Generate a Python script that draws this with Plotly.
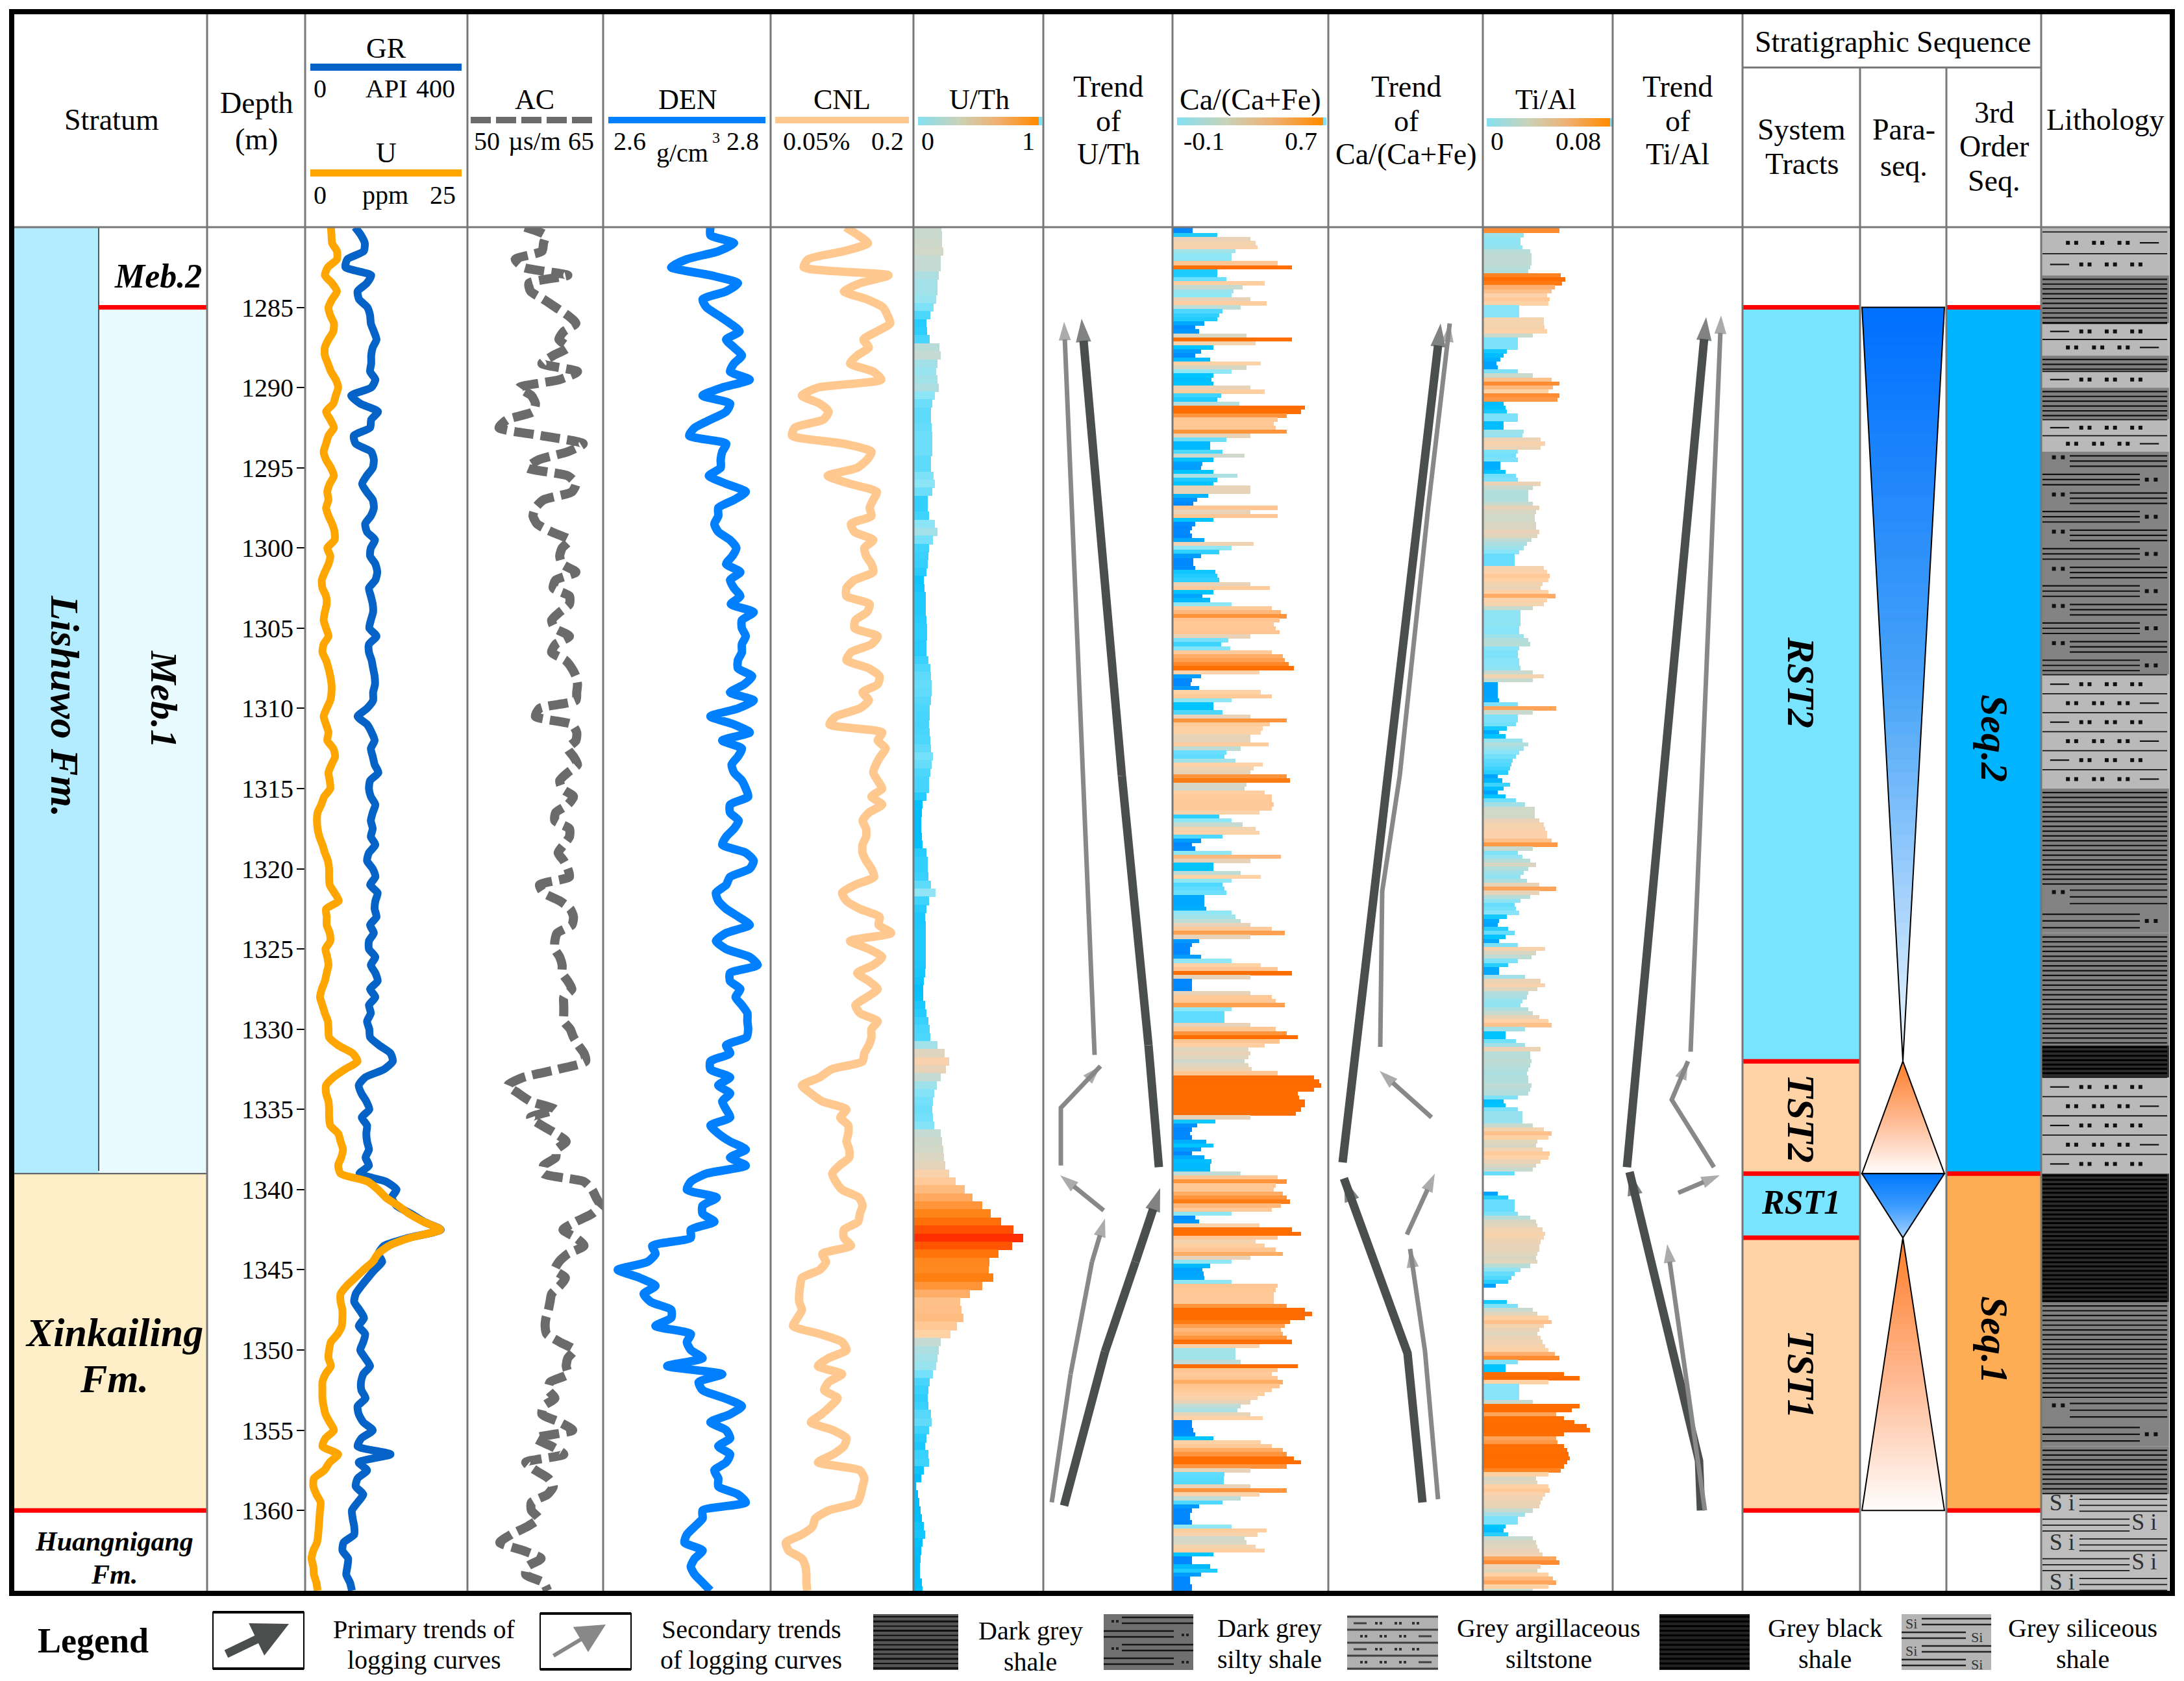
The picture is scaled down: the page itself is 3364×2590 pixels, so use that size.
import plotly.graph_objects as go

W, H = 3364, 2590
TOP_D, BOT_D = 1280.0, 1365.17
FONT = "Liberation Serif"

TICKS = [1285, 1290, 1295, 1300, 1305, 1310, 1315, 1320, 1325, 1330, 1335, 1340, 1345, 1350, 1355, 1360]

GR = [118,134,144,141,98,93,161,149,125,129,151,158,160,168,175,165,161,161,158,172,161,108,132,179,161,158,115,120,161,168,165,149,137,149,165,168,
160,145,150,171,160,158,172,177,172,155,160,165,166,160,156,175,155,155,162,166,170,171,166,166,150,125,150,162,170,160,165,170,180,158,155,160,172,165,160,165,160,172,155,150,165,172,158,178,172,170,175,158,168,155,155,172,160,172,178,158,172,155,160,150,156,158,
182,212,218,195,145,128,135,148,156,136,150,148,150,155,146,155,130,200,228,215,228,266,300,345,260,195,180,190,170,152,135,120,116,130,142,128,145,140,132,145,158,140,134,135,146,125,128,140,165,135,125,212,128,150,125,120,140,125,110,112,116,116,88,85,100,98,95,105,110]

U = [3.4,3.5,3.6,4.4,4.4,2.9,2.4,3.6,4.4,3.6,3.0,3.3,3.9,3.8,3.0,2.4,2.4,2.9,3.4,4.2,4.6,4.2,3.8,2.6,3.3,3.9,3.0,2.6,2.2,2.6,3.4,3.9,3.2,2.8,3.0,2.6,
3,3.6,4,4,2.8,3.3,3,2.4,1.9,2,2.6,2.7,2.4,2.2,2.6,3,2.2,2,2.6,3,3.3,3.5,3.5,3.3,2.7,2.2,2.6,3,2.8,3.8,4.1,3.5,3,3.2,3.3,2.3,1.8,1.2,1.1,1.2,1.5,2,2.4,2.9,3.1,3.1,3.2,4,4.7,2.6,2.7,2.7,3.2,3.3,2.5,2.8,3,2.7,2.4,1.9,1.6,2,2.4,2.9,3,3.1,
4.6,7,7.8,5.7,3.8,2.6,2.6,3,3.1,3.1,3.3,4.6,5,5.4,5.1,4.6,5,9.5,11.2,12.5,14.5,16.3,18.7,21.5,16.5,13,11.2,10.3,8.8,7.4,6,5,5,5.3,5.3,5.2,4.5,3.4,3.1,3,3.4,2.5,2,2,2,2.2,2.5,3.2,3.9,2.5,2,4.6,3.2,2.3,0.6,0.5,1,1.7,1.6,1.5,1.4,1.3,1.1,0.5,0.2,0.5,0.6,1,1.2]

AC = [56.7,59.2,59,58.8,55.5,56.5,62,57.2,57.4,59,60.5,62,63,61.5,60.9,62,60.2,58.8,63.2,61,56,57.5,58,57.7,54.5,53.5,58.8,63.9,62,58.4,57,62,63,62.5,59,58,
57.7,58.2,60,62.2,61.3,61,61.3,63,60.5,60.2,62.2,62.2,61,60,60.4,62.2,60.5,60,61.7,62.5,63,63.2,63.1,63,58.5,58,62.5,63.1,63,62,62.7,63.2,62,61,61.3,62.7,62,60.5,60.4,62.2,62.2,61.5,60.8,61.5,62,62.2,58.5,59,61,62.3,62.7,62.5,60.7,60.4,60.4,61,61.3,61.3,62,62.5,61.5,61.5,61.5,61.5,62.3,62.7,
63.3,64,64.2,60.8,56.5,54.6,55.9,57.4,60.4,57.4,58.8,60.5,61.8,60.6,60.5,59,59,64,65,65.5,66,65,63,61.4,63,64,62,60.9,60.4,61.7,61,60,59.8,59.6,59.3,59.2,59.4,61,62.8,62,61.8,62,59.8,59.6,60.4,59,58.8,61,62.6,58,60,61.5,56.8,58,59.6,60.2,59.5,57.5,57.5,58.4,57,55,53.6,56.5,58.7,57,56.8,59,59.5]

DEN = [2.73,2.73,2.76,2.74,2.70,2.68,2.73,2.765,2.75,2.72,2.725,2.74,2.755,2.767,2.75,2.76,2.77,2.76,2.755,2.78,2.745,2.72,2.755,2.75,2.73,2.71,2.703,2.75,2.745,2.743,2.743,2.728,2.75,2.775,2.76,2.74,
2.74,2.735,2.74,2.755,2.763,2.758,2.75,2.768,2.755,2.76,2.768,2.756,2.785,2.77,2.77,2.775,2.77,2.77,2.765,2.765,2.783,2.773,2.755,2.785,2.765,2.73,2.76,2.78,2.745,2.77,2.765,2.757,2.76,2.77,2.775,2.778,2.755,2.755,2.766,2.76,2.75,2.745,2.775,2.785,2.78,2.755,2.75,2.737,2.74,2.75,2.766,2.78,2.75,2.737,2.75,2.78,2.79,2.755,2.755,2.768,2.762,2.77,2.777,2.777,2.778,2.776,
2.75,2.755,2.73,2.73,2.755,2.74,2.755,2.745,2.75,2.755,2.73,2.74,2.755,2.775,2.755,2.775,2.725,2.705,2.70,2.738,2.72,2.72,2.735,2.705,2.705,2.656,2.66,2.65,2.612,2.64,2.66,2.645,2.654,2.68,2.68,2.66,2.705,2.70,2.705,2.72,2.675,2.745,2.715,2.72,2.748,2.77,2.755,2.73,2.75,2.755,2.74,2.755,2.75,2.735,2.74,2.74,2.765,2.775,2.72,2.72,2.71,2.70,2.697,2.72,2.71,2.705,2.71,2.72,2.73]

CNL = [0.129,0.143,0.154,0.127,0.087,0.082,0.177,0.145,0.127,0.153,0.171,0.176,0.179,0.164,0.149,0.155,0.142,0.134,0.16,0.169,0.098,0.08,0.1,0.11,0.104,0.072,0.069,0.127,0.158,0.153,0.142,0.109,0.134,0.164,0.16,0.156,
.158,.135,.139,.16,.15,.152,.158,.16,.139,.13,.13,.156,.153,.14,.139,.165,.158,.135,.13,.155,.167,.165,.148,.155,.145,.118,.111,.17,.165,.174,.168,.163,.16,.165,.17,.158,.17,.155,.148,.152,.152,.148,.148,.152,.158,.161,.14,.125,.13,.145,.167,.166,.18,.134,.155,.17,.16,.142,.155,.165,.153,.14,.145,.165,.158,.158,
.155,.15,.148,.113,.10,.08,.09,.103,.13,.123,.132,.132,.13,.133,.133,.122,.114,.118,.125,.144,.148,.145,.143,.127,.127,.135,.103,.107,.1,.08,.078,.077,.077,.08,.075,.07,.1,.125,.13,.11,.098,.125,.11,.105,.12,.112,.102,.09,.115,.13,.127,.115,.098,.145,.15,.148,.146,.142,.11,.095,.092,.08,.062,.065,.08,.084,.085,.085,.086]

UTH = [.196,.197,.2,.207,.19,.19,.17,.16,.16,.15,.13,.1,.07,.075,.095,.18,.19,.16,.15,.16,.17,.14,.12,.11,.11,.115,.12,.12,.12,.11,.11,.13,.14,.12,.08,.08,
.09,.14,.16,.125,.09,.086,.082,.07,.05,.055,.063,.065,.065,.07,.075,.075,.07,.07,.085,.1,.11,.115,.112,.105,.098,.095,.093,.096,.1,.11,.125,.115,.1,.093,.093,.07,.04,.03,.025,.027,.03,.04,.07,.08,.08,.085,.11,.144,.09,.07,.06,.062,.065,.065,.065,.065,.062,.058,.05,.042,.045,.06,.07,.085,.095,.1,
.16,.22,.256,.23,.19,.155,.135,.125,.12,.125,.135,.19,.2,.207,.215,.226,.26,.31,.385,.45,.53,.603,.69,.79,.87,.78,.665,.59,.584,.622,.53,.43,.35,.36,.377,.32,.27,.19,.17,.16,.15,.125,.095,.085,.078,.085,.105,.113,.09,.07,.06,.085,.09,.05,.025,-.015,.0,.012,.02,.03,.05,.057,.038,.028,.02,.015,.018,.03,.038]

CA = [-.016,-.016,.12,.3,.33,.34,.22,.2,.2,.45,.53,.12,.12,.17,.38,.26,.21,.2,.3,.39,.25,.15,.13,.12,.05,.0,.02,.28,.53,.33,.1,.03,.0,.08,.36,.28,.2,.1,.09,.1,.3,.38,.14,.12,.24,.6,.58,.5,.45,.43,.44,.5,.3,.17,.08,.08,.15,.27,.1,.04,.03,.1,.23,.12,.1,.3,.3,.07,.01,-.01,.45,
.3,.45,.1,.0,-.02,-.03,-.02,.05,.32,.2,.13,.03,-.01,-.01,.0,.11,.12,.13,.3,.41,.1,.04,.08,.2,.42,.47,.5,.46,.43,.44,.46,.3,.18,.14,.19,.42,.48,.49,.51,.54,.35,.03,-.02,-.025,.02,.36,.42,.2,.1,.1,.15,.3,.5,.41,.37,.36,.3,.3,.4,.25,.17,.16,.22,.37,.32,.3,.5,.52,.28,.27,.38,.42,.42,.43,.42,.35,.13,.2,.26,.33,.35,.15,.03,-.02,.0,.2,.47,.3,.1,.1,.25,.36,.2,.15,.16,.17,.05,.05,.05,.06,.2,.22,.25,.3,.42,.49,.3,.02,-.02,-.03,-.03,.03,.2,.36,.45,.53,.3,-.02,-.02,-.02,.3,.42,.44,.49,.2,.16,.16,.16,.3,.44,.5,.56,.46,.38,
.29,.3,.29,.27,.29,.31,.45,.65,.68,.69,.65,.56,.57,.6,.6,.58,.55,.3,.11,.01,-.02,-.03,-.02,.06,.1,.03,-.02,.05,.09,.08,.08,.25,.45,.5,.44,.43,.48,.5,.52,.47,.42,.2,0,.02,.35,.53,.58,.45,.33,.38,.44,.48,.3,.2,.08,.04,.045,.05,.2,.45,.44,.43,.43,.43,.5,.6,.64,.6,.52,.49,.47,.48,.5,.53,.35,.22,.22,.22,.25,.56,.45,.42,.45,.48,.46,.42,.38,.34,.3,.25,.23,.3,.37,-.02,-.02,-.01,0,.1,.36,.42,.48,.5,.54,.58,.5,.3,.16,.155,.155,.3,.5,.35,.25,.15,.02,-.02,-.03,-.03,-.02,.2,.39,.34,.27,.28,.33,.38,.1,-.02,-.02,.08,.12,.03,-.03,-.03,-.02,-.02]

TI = [.047,.047,.024,.022,.022,.023,.028,.029,.029,.029,.028,.027,.048,.051,.049,.044,.042,.039,.041,.04,.021,.021,.021,.037,.037,.0374,.039,.03,.02,.02,.02,.013,.011,.009,.0065,.007,.02,.03,.042,.047,.043,.04,.047,.046,.011,.012,.013,.02,.02,.011,.011,.024,.023,.035,.038,.035,.02,.019,.02,.009,.009,.012,.019,.02,.035,.03,.027,.027,.027,.03,.034,
.032,.031,.031,.032,.032,.034,.033,.029,.026,.024,.021,.018,.018,.018,.037,.039,.041,.04,.036,.035,.04,.0445,.039,.037,.03,.022,.022,.022,.022,.021,.021,.024,.027,.028,.021,.02,.02,.021,.021,.022,.03,.037,.03,.007,.007,.007,.007,.008,.02,.045,.03,.02,.02,.019,.013,.008,.012,.023,.027,.024,.021,.019,.017,.016,.015,.014,.007,.01,.015,.011,.007,.012,.019,.025,.031,.031,.031,.034,.037,.038,.039,.039,.042,.046,.03,.02,.023,.028,.032,.027,.024,.022,.026,.034,.045,.034,.028,.022,.018,.019,.021,.013,.008,.007,.014,.018,.012,.008,.02,.038,.032,.029,.02,.014,.008,.008,.025,.035,.038,.033,.027,.026,.023,.022,.027,.03,.034,.04,.042,.025,.012,.012,.019,.025,
.035,.028,.028,.029,.028,.027,.026,.027,.027,.029,.028,.027,.02,.011,.012,.02,.023,.023,.023,.03,.037,.042,.04,.033,.032,.036,.041,.04,.035,.032,.03,.018,-.0025,-.0025,-.0025,-.0025,.007,.014,.018,.018,.018,.02,.028,.032,.033,.036,.038,.037,.035,.034,.034,.033,.032,.033,.028,.022,.018,.016,.014,.006,-.0025,-.0025,-.0025,.013,.02,.03,.033,.04,.042,.037,.034,.033,.035,.036,.038,.04,.044,.047,.02,.012,.012,.05,.06,.04,.021,.021,.021,.021,.03,.06,.055,.045,.05,.057,.065,.067,.05,.045,.046,.05,.052,.053,.054,.052,.05,.048,.04,.032,.033,.04,.041,.038,.036,.035,.034,.03,.025,.02,.02,.012,.011,.014,.03,.032,.033,.034,.036,.045,.047,.035,.033,.04,.043,.045,.04,.03]

SCALE_UTH = [(-.04,"#00B4FF"),(.04,"#00C0FF"),(.09,"#3FD3FF"),(.14,"#8CE5F6"),(.19,"#C4DAD2"),(.23,"#E8D3B8"),(.27,"#FFD2A6"),(.38,"#FFBB80"),(.5,"#FF9A45"),(.62,"#FF8010"),(.75,"#FF6000"),(.88,"#FF2A00")]
SCALE_CA = [(-.12,"#0080FF"),(-.01,"#0088FF"),(.05,"#00A8FF"),(.1,"#00C4FF"),(.16,"#5FDCFF"),(.2,"#8FE6F5"),(.25,"#BFDCD6"),(.3,"#E8D3B8"),(.36,"#FFD2A6"),(.46,"#FFC490"),(.49,"#FFA050"),(.53,"#FF6E00"),(.7,"#FF6A00")]
SCALE_TI = [(-.0025,"#0080FF"),(.008,"#00A8FF"),(.012,"#00C4FF"),(.016,"#50D8FF"),(.021,"#88E4F8"),(.028,"#B8DCD8"),(.034,"#E8D3B8"),(.04,"#FFD2A6"),(.044,"#FFB070"),(.047,"#FF8C30"),(.05,"#FF6E00"),(.07,"#FF6A00")]

TREND_MAIN_COLOR, TREND_SEC_COLOR = "#4A4E4C", "#888888"
# each trend: depth and horizontal position (screen column, px) of the vertices, head last
UTH_TRENDS = [
 (1,[1785,1769,1728,1690,1666],[1338.6,1331,1314.2,1297.4,1285.7]),
 (0,[1686,1651,1639],[1331.6,1297.4,1285.9]),
 (0,[1634,1634,1695],[1338.5,1334.9,1332.3]),
 (0,[1700,1633],[1341.3,1339.1]),
 (1,[1639,1677,1702,1749,1787],[1359.7,1353.8,1350.1,1344.5,1339.9]),
 (0,[1620,1649,1682,1702],[1359.5,1351.5,1344.5,1341.8]),
]
CA_TRENDS = [
 (1,[2068,2089,2137,2188,2219],[1338.3,1331,1314,1297.4,1286]),
 (0,[2126,2129,2156,2200,2233],[1331.1,1321.4,1314.2,1297.4,1286]),
 (0,[2205,2125],[1335.5,1332.6]),
 (0,[2167,2210],[1342.8,1339]),
 (1,[2191,2168,2070],[1359.5,1350.2,1339.3]),
 (0,[2215,2195,2172],[1359.3,1350.1,1343.7]),
]
TI_TRENDS = [
 (1,[2506,2628],[1338.6,1285.6]),
 (0,[2604,2651],[1331.4,1285.5]),
 (0,[2640,2575,2600],[1338.6,1334.4,1332]),
 (0,[2585,2649],[1340.2,1339.1]),
 (1,[2620,2617,2510],[1360,1356.9,1338.9]),
 (0,[2626,2568],[1360,1343.4]),
]

LITH = [  # top, base, type, rows, first pattern
 (1280.3,1283,"silt",2,"A"),(1283,1286,"shale",0,""),(1286,1288,"silt",2,"B"),(1288,1289,"shale",0,""),(1289,1290,"silt",1,"B"),
 (1290,1292,"shale",0,""),(1292,1294,"silt",2,"B"),(1294,1307.9,"silty",12,"A"),(1307.9,1315,"silt",6,"B"),(1315,1321,"shale",0,""),
 (1321,1324,"silty",2,"A"),(1324,1331,"shale",0,""),(1331,1333,"black",0,""),(1333,1339,"silt",5,"B"),(1339,1347,"black",0,""),
 (1347,1353,"shale",0,""),(1353,1356,"silty",2,"A"),(1356,1359,"shale",0,""),(1359,1365.17,"si",5,"A")]
LITH_BG = {"silt":"#B9B9B9","shale":"#808080","silty":"#838383","black":"#2C2C2C","si":"#BDBDBD"}

# ------------------------------------------------------------------ helpers
def px(x): return x/W
def py(y): return 1-y/H
def depth_grid(n, start=1280.0, step=0.5): return [start+i*step for i in range(n)]
def rgb(h): return tuple(int(h[i:i+2],16) for i in (1,3,5))
def mix(a,b,t):
    a,b=rgb(a),rgb(b)
    return "rgb(%d,%d,%d)"%tuple(a[i]+(b[i]-a[i])*t for i in range(3))
def norm(scale):
    lo,hi=scale[0][0],scale[-1][0]
    return [[(v-lo)/(hi-lo),c] for v,c in scale]

shapes,annots,traces=[],[],[]
def txt(x,y,s,size=46,bold=False,italic=False,angle=0,color="black"):
    if italic: s="<i>%s</i>"%s
    if bold: s="<b>%s</b>"%s
    annots.append(dict(x=px(x),y=py(y),xref="paper",yref="paper",text=s,showarrow=False,xanchor="center",yanchor="middle",
                       textangle=angle,font=dict(family=FONT,size=size,color=color)))
def rect(x0,x1,y0,y1,fill,line=None,lw=0,layer="below"):
    shapes.append(dict(type="rect",xref="paper",yref="paper",x0=px(x0),x1=px(x1),y0=py(y0),y1=py(y1),fillcolor=fill,
                       line=dict(width=lw,color=line or fill),layer=layer))
def block(x0,x1,d0,d1,fill):
    shapes.append(dict(type="rect",xref="paper",yref="y",x0=px(x0),x1=px(x1),y0=d0,y1=d1,fillcolor=fill,line=dict(width=0),layer="below"))
def hline(x0,x1,d,color="#FF0000",w=7):
    shapes.append(dict(type="line",xref="paper",yref="y",x0=px(x0),x1=px(x1),y0=d,y1=d,line=dict(color=color,width=w),layer="above"))
def seg(x0,y0,x1,y1,color="#777777",w=3):
    shapes.append(dict(type="line",xref="paper",yref="paper",x0=px(x0),x1=px(x1),y0=py(y0),y1=py(y1),line=dict(color=color,width=w),layer="above"))

# ------------------------------------------------------------------ axes
axes={}
def add_axis(name,tl,tr,rng=None,overlay=None):
    a=dict(domain=[px(tl),px(tr)],anchor="y",visible=False,range=rng or [tl,tr],showgrid=False,zeroline=False)
    if overlay:
        a["overlaying"]=overlay
    axes[name]=a
def scale_range(tl,tr,p0,p1,v0,v1):
    k=(p1-p0)/(v1-v0)
    return [v0-(p0-tl)/k, v1+(tr-p1)/k]

add_axis("xaxis",319,470,[0,1])
add_axis("xaxis2",470,720,scale_range(470,720,478,711,0,400))
add_axis("xaxis3",470,720,scale_range(470,720,478,711,0,25),overlay="x2")
add_axis("xaxis4",720,929,scale_range(720,929,725,912,50,65))
add_axis("xaxis5",929,1187,scale_range(929,1187,937,1179,2.6,2.8))
add_axis("xaxis6",1187,1407,scale_range(1187,1407,1194,1400,.05,.2))
r_uth=scale_range(1407,1607,1414,1600,0,1); add_axis("xaxis7",1407,1607,r_uth)
add_axis("xaxis8",1607,1806)
r_ca=scale_range(1806,2046,1813,2038,-.1,.7); add_axis("xaxis9",1806,2046,r_ca)
add_axis("xaxis10",2046,2284)
r_ti=scale_range(2284,2484,2290,2480,0,.08); add_axis("xaxis11",2284,2484,r_ti)
add_axis("xaxis12",2484,2684)
add_axis("xaxis13",3145,3341,[0,100])

def curve(xa,vals,color,w,dash=None):
    traces.append(go.Scatter(x=vals,y=depth_grid(len(vals)),xaxis=xa,yaxis="y",mode="lines",
        line=dict(color=color,width=w,dash=dash,shape="spline",smoothing=0.6),hoverinfo="skip"))
traces.append(go.Scatter(x=[0,1],y=[1280,1365],xaxis="x",yaxis="y",mode="markers",marker=dict(opacity=0,size=1),hoverinfo="skip"))
curve("x3",U,"#FFA500",12)
curve("x2",GR,"#0563C8",12)
curve("x4",AC,"#6B6B6B",14,"30px,11px")
curve("x5",DEN,"#0080FF",13)
curve("x6",CNL,"#FFC88F",13)

def bars(xa,vals,step,rng,scale):
    base=rng[0]
    traces.append(go.Bar(x=[v-base for v in vals],y=depth_grid(len(vals),step=step),base=base,xaxis=xa,yaxis="y",orientation="h",
        width=step*1.06,marker=dict(color=vals,colorscale=norm(scale),cmin=scale[0][0],cmax=scale[-1][0],line=dict(width=0),showscale=False),hoverinfo="skip"))
bars("x7",UTH,0.5,r_uth,SCALE_UTH)
bars("x9",CA,0.25,r_ca,SCALE_CA)
bars("x11",TI,0.25,r_ti,SCALE_TI)

def arrows(xa,items):
    for main,xs,ds in items:
        c=TREND_MAIN_COLOR if main else TREND_SEC_COLOR
        w=13 if main else 7
        traces.append(go.Scatter(x=xs,y=ds,xaxis=xa,yaxis="y",mode="lines+markers",line=dict(color=c,width=w),
            marker=dict(symbol="arrow",angleref="previous",size=[0]*(len(xs)-1)+[38 if main else 30],color=c,line=dict(width=0)),hoverinfo="skip"))
arrows("x8",UTH_TRENDS); arrows("x10",CA_TRENDS); arrows("x12",TI_TRENDS)

# ------------------------------------------------------------------ stratum / sequence blocks
block(18,152,1280,1339,"#B3ECFF")
block(152,319,1285,1339,"#E9FAFF")
block(18,319,1339,1360,"#FFEFC9")
block(2684,2865,1285,1332,"#78E4FF"); block(2684,2865,1332,1339,"#FFD3A5")
block(2684,2865,1339,1343,"#78E4FF"); block(2684,2865,1343,1360,"#FFD3A5")
block(2998,3144,1285,1339,"#00B4FF"); block(2998,3144,1339,1360,"#FFAD55")
shapes.append(dict(type="line",xref="paper",yref="paper",x0=px(152),x1=px(152),y0=py(350),y1=py(1804),line=dict(color="#555555",width=2)))
hline(18,319,1339,"#555555",2)
for x0,x1,d in [(152,319,1285),(18,319,1360),(2684,2865,1285),(2684,2865,1332),(2684,2865,1339),(2684,2865,1343),(2684,2865,1360),
                (2998,3144,1285),(2998,3144,1339),(2998,3144,1360)]:
    hline(x0,x1,d)

def tri(d0,d1,wide_top,c0,c1,c2):
    n=60; L,R,C=2868,2995,2931
    for i in range(n):
        a,b=i/n,(i+1)/n
        ta,tb=(1-a,1-b) if wide_top else (a,b)
        y0=d0+(d1-d0)*a; y1=d0+(d1-d0)*b+0.03
        col=mix(c0,c1,a*2) if a<.5 else mix(c1,c2,(a-.5)*2)
        path="M %f,%f L %f,%f L %f,%f L %f,%f Z"%(px(C-(C-L)*ta),y0,px(C+(R-C)*ta),y0,px(C+(R-C)*tb),y1,px(C-(C-L)*tb),y1)
        shapes.append(dict(type="path",xref="paper",yref="y",path=path,fillcolor=col,line=dict(width=0),layer="below"))
    if wide_top:
        o="M %f,%f L %f,%f L %f,%f Z"%(px(L),d0,px(R),d0,px(C),d1)
    else:
        o="M %f,%f L %f,%f L %f,%f Z"%(px(C),d0,px(R),d1,px(L),d1)
    shapes.append(dict(type="path",xref="paper",yref="y",path=o,line=dict(color="black",width=2),layer="below"))
tri(1285,1332,True,"#0070FF","#4AA5F8","#F0F8FF")
tri(1332,1339,False,"#FF7F2A","#FFB890","#FFFFFF")
tri(1339,1343,True,"#0078FF","#3C9CFF","#A8D4FF")
tri(1343,1360,False,"#FF7F2A","#FFB890","#FFFFFF")

# ------------------------------------------------------------------ lithology
lx,ly,thin_x,thin_y,dx,dy,sx,sy,blk_x,blk_y=[],[],[],[],[],[],[],[],[],[]
def L(xs,ys,x0,x1,d):
    xs.extend([x0,x1,None]); ys.extend([d,d,None])
for top,base,kind,rows,first in LITH:
    block(3145,3341,top if top!=1280.3 else 1280,base,LITH_BG[kind])
    if kind=="shale":
        d=top+0.25
        while d<base-0.05:
            L(lx,ly,0.5,98.5,d); d+=0.3
    elif kind=="black":
        d=top+0.12
        while d<base-0.03:
            L(blk_x,blk_y,0.5,98.5,d); d+=0.27
    else:
        h=(base-top)/rows
        for r in range(rows):
            pat=(r%2==0) if first=="A" else (r%2==1)
            t=top+r*h; mid=t+h/2
            if kind=="silt":
                L(thin_x,thin_y,0.5,98.5,t)
                if pat:
                    L(lx,ly,77,92,mid); pts=[20.5,27,41,47.5,61,67.5]
                else:
                    L(lx,ly,6.5,21.5,mid); pts=[31,37.5,51,57.5,71,77.5]
                dx.extend(pts); dy.extend([mid]*6)
            elif kind=="silty":
                for f in (.22,.5,.78):
                    if pat: L(lx,ly,22,98.5,t+h*f)
                    else: L(lx,ly,0.5,77,t+h*f)
                if pat: dx.extend([9.5,16.5]); dy.extend([t+h*.3]*2)
                else: dx.extend([82.5,89.5]); dy.extend([t+h*.5]*2)
            else:
                for f in (.25,.55,.85):
                    if pat: L(thin_x,thin_y,29.5,98.5,t+h*f)
                    else: L(thin_x,thin_y,0.5,69,t+h*f)
                sx.append(16 if pat else 80.5); sy.append(mid)
traces.append(go.Scatter(x=blk_x,y=blk_y,xaxis="x13",yaxis="y",mode="lines",line=dict(color="#000000",width=3),hoverinfo="skip"))
traces.append(go.Scatter(x=lx,y=ly,xaxis="x13",yaxis="y",mode="lines",line=dict(color="#101010",width=2.2),hoverinfo="skip"))
traces.append(go.Scatter(x=thin_x,y=thin_y,xaxis="x13",yaxis="y",mode="lines",line=dict(color="#151515",width=1.8),hoverinfo="skip"))
traces.append(go.Scatter(x=dx,y=dy,xaxis="x13",yaxis="y",mode="markers",marker=dict(symbol="square",size=6,color="#101010",line=dict(width=0)),hoverinfo="skip"))
traces.append(go.Scatter(x=sx,y=sy,xaxis="x13",yaxis="y",mode="text",text=["S i"]*len(sx),textfont=dict(family=FONT,size=36,color="#303030"),hoverinfo="skip"))

# ------------------------------------------------------------------ table frame
for x in [319,470,720,929,1187,1407,1607,1806,2046,2284,2484,2684,3144]:
    seg(x,18,x,2455)
for x in [2865,2998]:
    seg(x,104,x,2455)
seg(2684,104,3144,104)
seg(18,350,3346,350)
shapes.append(dict(type="rect",xref="paper",yref="paper",x0=px(18),x1=px(3346),y0=py(18),y1=py(2455),line=dict(color="black",width=8),fillcolor="rgba(0,0,0,0)",layer="above"))

# header bars
rect(478,711,98,109,"#0563C8"); rect(478,711,261,272,"#FFA500")
x=725
while x<912:
    rect(x,min(x+31,912),180,190,"#6B6B6B"); x+=39
rect(937,1179,180,190,"#0080FF"); rect(1194,1400,180,190,"#FFC88F")
def grad(x0,x1,y0,y1):
    n=40; stops=["#87DFF0","#C9D3B8","#F0B070","#FF8C00"]
    for i in range(n):
        t=i/(n-1)*3; k=min(int(t),2)
        rect(x0+(x1-x0)*i/n,x0+(x1-x0)*(i+1)/n+1,y0,y1,mix(stops[k],stops[k+1],t-k))
    rect(x1,x1+5,y0,y1,"#87DFF0")
grad(1414,1600,180,193); grad(1813,2038,181,193); grad(2290,2480,182,195)

# header text
txt(172,185,"Stratum"); txt(395,158,"Depth"); txt(395,214,"(m)")
txt(595,74,"GR",44); txt(493,137,"0",40); txt(595,137,"API",40); txt(671,137,"400",40)
txt(595,236,"U",44); txt(493,300,"0",40); txt(593,300,"ppm",40); txt(682,300,"25",40)
txt(823,153,"AC",44); txt(750,218,"50",40); txt(823,218,"µs/m",40); txt(895,218,"65",40)
txt(1059,153,"DEN",44); txt(970,218,"2.6",40); txt(1051,236,"g/cm",40); txt(1103,212,"3",24); txt(1144,218,"2.8",40)
txt(1297,153,"CNL",44); txt(1257,218,"0.05%",40); txt(1367,218,"0.2",40)
txt(1508,153,"U/Th",44); txt(1429,218,"0",40); txt(1584,218,"1",40)
for x,l in [(1707,"U/Th"),(2166,"Ca/(Ca+Fe)"),(2584,"Ti/Al")]:
    txt(x,133,"Trend"); txt(x,186,"of"); txt(x,237,l)
txt(1926,153,"Ca/(Ca+Fe)"); txt(1854,218,"-0.1",40); txt(2004,218,"0.7",40)
txt(2381,153,"Ti/Al",44); txt(2306,218,"0",40); txt(2431,218,"0.08",40)
txt(2915,64,"Stratigraphic Sequence"); txt(2775,200,"System"); txt(2775,252,"Tracts")
txt(2932,200,"Para-"); txt(2932,255,"seq."); txt(3071,173,"3rd"); txt(3071,226,"Order"); txt(3071,278,"Seq.")
txt(3242,185,"Lithology")

# stratum labels
txt(100,1088,"Lishuwo Fm.",62,True,True,90); txt(253,1077,"Meb.1",58,True,True,90); txt(243,425,"Meb.2",52,True,True)
txt(176,2053,"Xinkailing",62,True,True); txt(176,2124,"Fm.",62,True,True)
txt(176,2375,"Huangnigang",42,True,True); txt(176,2426,"Fm.",42,True,True)
txt(2774,1051,"RST2",60,True,True,90); txt(2774,1723,"TST2",60,True,True,90); txt(2774,1852,"RST1",52,True,True); txt(2774,2117,"TST1",60,True,True,90)
txt(3072,1137,"Seq.2",60,True,True,90); txt(3072,2064,"Seq.1",60,True,True,90)

# legend
txt(143,2528,"Legend",54,True)
rect(328,468,2484,2571,"white","black",2,"above"); rect(832,972,2486,2572,"white","black",2,"above")
for x0,x1,y in [(328,468,2484),(328,468,2571),(832,972,2486),(832,972,2572)]:
    seg(x0,y,x1,y,"black",4)
for tip,tail,c,w,sz in [((445,2502),(347,2549),TREND_MAIN_COLOR,13,0.85),((933,2503),(851,2552),TREND_SEC_COLOR,6,1.5)]:
    annots.append(dict(x=px(tip[0]),y=py(tip[1]),xref="paper",yref="paper",ax=tail[0]-tip[0],ay=tail[1]-tip[1],text="",showarrow=True,
                       arrowhead=2,arrowsize=sz,arrowwidth=w,arrowcolor=c))
txt(653,2510,"Primary trends of",40); txt(653,2557,"logging curves",40)
txt(1157,2510,"Secondary trends",40); txt(1157,2557,"of logging curves",40)
txt(1587,2512,"Dark grey",40); txt(1587,2560,"shale",40)
txt(1955,2508,"Dark grey",40); txt(1955,2556,"silty shale",40)
txt(2385,2508,"Grey argillaceous",40); txt(2385,2556,"siltstone",40)
txt(2811,2508,"Grey black",40); txt(2811,2556,"shale",40)
txt(3208,2508,"Grey siliceous",40); txt(3208,2556,"shale",40)

rect(1345,1476,2487,2573,"#555555")
for i in range(12):
    y=2491+i*7.2; seg(1345,y,1476,y,"#101010",3 if i%2 else 2)
rect(1700,1838,2487,2573,"#707070")
for r,(a,b) in enumerate([(1728,1838),(1700,1808),(1728,1838),(1700,1808)]):
    for j in range(2):
        y=2492+r*21+j*9; seg(a,y,b,y,"#151515",2.5)
    dot=1712 if r%2==0 else 1820
    rect(dot,dot+4,2496+r*21,2500+r*21,"#202020"); rect(dot+7,dot+11,2496+r*21,2500+r*21,"#202020")
rect(2075,2215,2489,2573,"#B0B0B0")
for r in range(5):
    seg(2075,2491+r*20,2215,2491+r*20,"#404040",3)
for r,(a,b) in enumerate([(2085,2105),(2185,2205),(2085,2105),(2185,2205)]):
    seg(a,2501+r*20,b,2501+r*20,"#404040",3)
    for q in ([2118,2148,2175] if a==2085 else [2095,2125,2155]):
        rect(q,q+4,2499+r*20,2503+r*20,"#303030"); rect(q+7,q+11,2499+r*20,2503+r*20,"#303030")
rect(2556,2695,2487,2573,"#222222")
for i in range(12):
    y=2491+i*7.2; seg(2556,y,2695,y,"#000000",3)
rect(2929,3067,2487,2573,"#B4B4B4")
for r,(a,b) in enumerate([(2960,3067),(2929,3028),(2960,3067),(2929,3028)]):
    for j in range(2):
        y=2494+r*21+j*9; seg(a,y,b,y,"#222222",2.5)
for r,x in enumerate([2944,3045,2944,3045]):
    txt(x,2501+r*21,"Si",22,color="#333333")

layout=dict(width=W,height=H,margin=dict(l=0,r=0,t=0,b=0,pad=0),paper_bgcolor="white",plot_bgcolor="rgba(0,0,0,0)",showlegend=False,
    barmode="overlay",bargap=0,shapes=shapes,annotations=annots,
    yaxis=dict(domain=[py(2455),py(350)],range=[BOT_D,TOP_D],anchor="x",side="right",showgrid=False,zeroline=False,showline=False,
        tickmode="array",tickvals=TICKS,ticktext=[str(t) for t in TICKS],ticks="inside",ticklen=13,tickwidth=2,tickcolor="black",
        ticklabelposition="inside",ticklabelstandoff=10,tickfont=dict(family=FONT,size=40,color="black")))
layout.update(axes)
fig=go.Figure(data=traces,layout=layout)
fig.write_html("out.html",config={"displayModeBar":False},post_script="document.body.style.margin='0';")
